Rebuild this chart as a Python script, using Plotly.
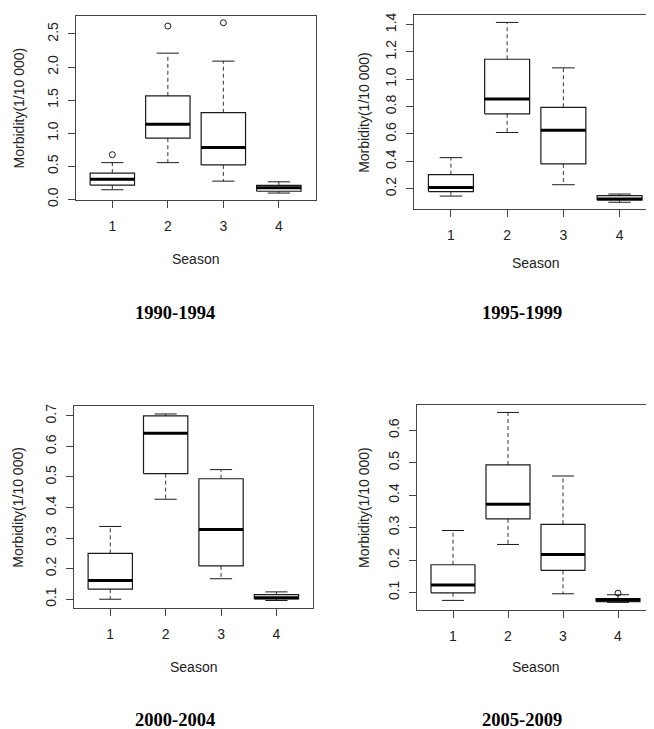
import plotly.graph_objects as go

# ---------------- data ----------------
seasons = [1, 2, 3, 4]
tick_labels = ["1", "2", "3", "4"]
panel_titles = ["1990-1994", "1995-1999", "2000-2004", "2005-2009"]
x_title = "Season"
y_title = "Morbidity(1/10 000)"

# 1990-1994
p1_lower = [0.145, 0.555, 0.275, 0.095]
p1_q1 = [0.215, 0.925, 0.52, 0.122]
p1_median = [0.305, 1.135, 0.785, 0.177]
p1_q3 = [0.397, 1.565, 1.31, 0.21]
p1_upper = [0.555, 2.21, 2.09, 0.265]
p1_out_x = [1, 2, 3]
p1_out_y = [0.675, 2.62, 2.67]

# 1995-1999
p2_lower = [0.146, 0.611, 0.229, 0.101]
p2_q1 = [0.179, 0.747, 0.381, 0.118]
p2_median = [0.208, 0.856, 0.628, 0.125]
p2_q3 = [0.303, 1.146, 0.795, 0.149]
p2_upper = [0.427, 1.415, 1.083, 0.161]
p2_out_x = []
p2_out_y = []

# 2000-2004
p3_lower = [0.100, 0.427, 0.167, 0.0957]
p3_q1 = [0.133, 0.511, 0.209, 0.101]
p3_median = [0.1615, 0.643, 0.328, 0.105]
p3_q3 = [0.250, 0.700, 0.494, 0.115]
p3_upper = [0.338, 0.706, 0.524, 0.124]
p3_out_x = []
p3_out_y = []

# 2005-2009
p4_lower = [0.0756, 0.248, 0.096, 0.0695]
p4_q1 = [0.099, 0.327, 0.168, 0.0715]
p4_median = [0.1234, 0.372, 0.217, 0.078]
p4_q3 = [0.1855, 0.493, 0.310, 0.081]
p4_upper = [0.291, 0.655, 0.459, 0.093]
p4_out_x = [4]
p4_out_y = [0.098]

y_ticks = [
    [0.0, 0.5, 1.0, 1.5, 2.0, 2.5],
    [0.2, 0.4, 0.6, 0.8, 1.0, 1.2, 1.4],
    [0.1, 0.2, 0.3, 0.4, 0.5, 0.6, 0.7],
    [0.1, 0.2, 0.3, 0.4, 0.5, 0.6],
]

panels = [
    (p1_lower, p1_q1, p1_median, p1_q3, p1_upper, p1_out_x, p1_out_y),
    (p2_lower, p2_q1, p2_median, p2_q3, p2_upper, p2_out_x, p2_out_y),
    (p3_lower, p3_q1, p3_median, p3_q3, p3_upper, p3_out_x, p3_out_y),
    (p4_lower, p4_q1, p4_median, p4_q3, p4_upper, p4_out_x, p4_out_y),
]

# ---------------- layout geometry (pixels) ----------------
W, H = 654, 729
# plot frames: left, right, top, bottom (px)
frames = [
    (67.7, 307.5, 5.0, 191.5),
    (405.8, 648.7, 4.3, 201.2),
    (65.7, 305.0, 401.0, 605.3),
    (408.7, 646.3, 399.3, 607.3),
]
season_y = [251.7, 255.0, 665.0, 665.0]
ylabel_x = [10.5, 356.5, 10.5, 356.5]
title_pos = [(167.0, 306.3), (513.6, 306.3), (167.0, 719.0), (513.6, 719.0)]

BOXW = 0.4      # half box width (R boxwex 0.8)
CAPW = 0.2      # half staple width
FRAME = "#444444"
INK = "#1a1a1a"
AXFONT = dict(family="Liberation Sans, Arial, sans-serif", size=14, color="#222222")

fig = go.Figure()


def px_x(v):
    return v / W


def px_y(v):
    return 1 - v / H


for i, (lo, q1, md, q3, up, ox, oy) in enumerate(panels):
    xa = "x" if i == 0 else f"x{i+1}"
    ya = "y" if i == 0 else f"y{i+1}"

    # boxes
    bx, by = [], []
    mx, my = [], []
    wx, wy = [], []
    cx, cy = [], []
    for s, a, b, c, d, e in zip(seasons, lo, q1, md, q3, up):
        bx += [s - BOXW, s + BOXW, s + BOXW, s - BOXW, s - BOXW, None]
        by += [b, b, d, d, b, None]
        mx += [s - BOXW, s + BOXW, None]
        my += [c, c, None]
        wx += [s, s, None, s, s, None]
        wy += [d, e, None, b, a, None]
        cx += [s - CAPW, s + CAPW, None, s - CAPW, s + CAPW, None]
        cy += [e, e, None, a, a, None]

    fig.add_trace(go.Scatter(x=wx, y=wy, mode="lines", xaxis=xa, yaxis=ya,
                             line=dict(color="#333333", width=1, dash="4px,3px"),
                             hoverinfo="skip", showlegend=False))
    fig.add_trace(go.Scatter(x=cx, y=cy, mode="lines", xaxis=xa, yaxis=ya,
                             line=dict(color=INK, width=1),
                             hoverinfo="skip", showlegend=False))
    fig.add_trace(go.Scatter(x=bx, y=by, mode="lines", xaxis=xa, yaxis=ya,
                             line=dict(color=INK, width=1.2),
                             hoverinfo="skip", showlegend=False))
    fig.add_trace(go.Scatter(x=mx, y=my, mode="lines", xaxis=xa, yaxis=ya,
                             line=dict(color="#000000", width=3),
                             hoverinfo="skip", showlegend=False))
    if ox:
        fig.add_trace(go.Scatter(x=ox, y=oy, mode="markers", xaxis=xa, yaxis=ya,
                                 marker=dict(symbol="circle-open", size=6,
                                             color=INK, line=dict(width=1, color=INK)),
                                 hoverinfo="skip", showlegend=False))

    vals = lo + up + oy
    ymin, ymax = min(vals), max(vals)
    pad = 0.04 * (ymax - ymin)

    l, r, t, b = frames[i]
    common = dict(showline=True, mirror=True, linecolor=FRAME, linewidth=1,
                  showgrid=False, zeroline=False, ticks="outside", ticklen=7,
                  tickcolor=FRAME, tickwidth=1, tickfont=AXFONT)
    fig.update_layout({
        ("xaxis" if i == 0 else f"xaxis{i+1}"): dict(
            domain=[px_x(l), px_x(r)], anchor=ya, range=[0.34, 4.66],
            tickvals=seasons, ticktext=tick_labels, ticklabelstandoff=6, **common),
        ("yaxis" if i == 0 else f"yaxis{i+1}"): dict(
            domain=[px_y(b), px_y(t)], anchor=xa, range=[ymin - pad, ymax + pad],
            tickvals=y_ticks[i], ticktext=[f"{v:.1f}" for v in y_ticks[i]],
            tickangle=-90, ticklabelstandoff=4, **common),
    })

    # axis titles and panel title
    fig.add_annotation(text=x_title, x=px_x((l + r) / 2), y=px_y(season_y[i]),
                       xref="paper", yref="paper", showarrow=False,
                       xanchor="center", yanchor="middle", font=AXFONT)
    fig.add_annotation(text=y_title, x=px_x(ylabel_x[i]), y=px_y((t + b) / 2),
                       xref="paper", yref="paper", showarrow=False, textangle=-90,
                       xanchor="center", yanchor="middle", font=AXFONT)
    tx, ty = title_pos[i]
    fig.add_annotation(text=panel_titles[i], x=px_x(tx), y=px_y(ty),
                       xref="paper", yref="paper", showarrow=False,
                       xanchor="center", yanchor="middle",
                       font=dict(family="Liberation Serif, Times New Roman, serif",
                                 size=18.5, color="#000000", weight="bold"))

fig.update_layout(width=W, height=H, margin=dict(l=0, r=0, t=0, b=0),
                  paper_bgcolor="white", plot_bgcolor="white", showlegend=False)

fig.write_html("out.html")
